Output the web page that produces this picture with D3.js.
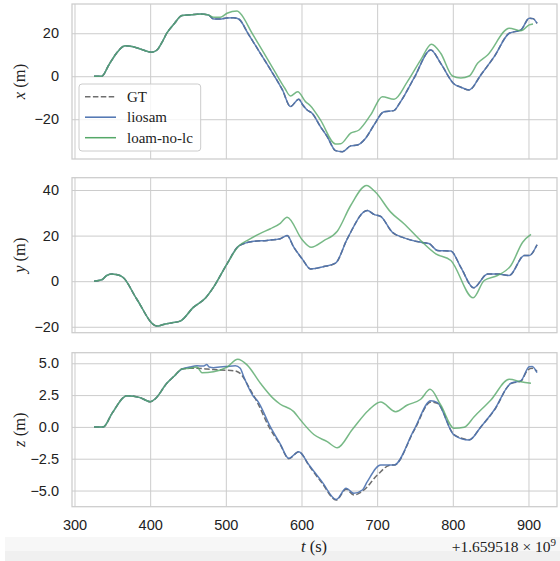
<!DOCTYPE html>
<html>
<head>
<meta charset="utf-8">
<script src="https://cdn.jsdelivr.net/npm/d3@7"></script>
<style>
  body { margin: 0; background: #fff; }
  svg { display: block; font-family: "Liberation Serif", serif; }
</style>
</head>
<body>
<svg id="chart" width="560" height="561"></svg>
<script>
// [t - 1659518000 (s), value (m)]
const xGT = [[325.8,0],[336,0],[345,5],[355,10.5],[366.9,14.2],[376,13.8],[386.8,12.7],[402,11.2],[409,12.2],[416,16],[422,20],[432,24.5],[442,28.2],[454,28.6],[466,29],[477,28.5],[484,26.6],[492.7,26.6],[501,27.1],[510,27.2],[517,26.6],[530,19.5],[545,11],[560,2.5],[575,-6.5],[585.4,-14.1],[596.4,-10.7],[602,-13.5],[607.5,-15.7],[614,-17.2],[625,-23.4],[634,-28.1],[645,-34.6],[654,-35.1],[665,-32.4],[673.8,-32],[684.8,-28.8],[695.8,-22.7],[709,-16.5],[722,-16],[731,-11.8],[748.7,-0.9],[770.9,12.2],[784,6],[801.7,-3.6],[810.6,-5.1],[821.6,-6.4],[837,0.6],[854.7,9.1],[874.6,20],[890,21.5],[901,27],[906,26.8],[911.3,24.6]];
const xLiosam = [[325.8,0],[336,0],[345,5],[355,10.5],[366.9,14.2],[376,13.8],[386.8,12.7],[402,11.2],[409,12.2],[416,16],[422,20],[432,24.5],[442,28.2],[454,28.6],[466,29],[477,28.5],[484,26.6],[492.7,26.6],[501,27.1],[510,27.2],[517,26.6],[530,19.5],[545,11],[560,2.5],[575,-6.5],[585.4,-14.1],[596.4,-10.7],[602,-13.5],[607.5,-15.7],[614,-17.2],[625,-23.4],[634,-28.1],[645,-34.6],[654,-35.1],[665,-32.4],[673.8,-32],[684.8,-28.8],[695.8,-22.7],[709,-16.5],[722,-16],[731,-11.8],[748.7,-0.9],[770.9,12.2],[784,6],[801.7,-3.6],[810.6,-5.1],[821.6,-6.4],[837,0.6],[854.7,9.1],[874.6,20],[890,21.5],[901,27],[906,26.8],[911.3,24.6]];
const xLoam = [[325.8,0],[336,0],[345,5],[355,10.5],[366.9,14.2],[376,13.8],[386.8,12.7],[402,11.2],[409,12.2],[416,16],[422,20],[432,24.5],[442,28.2],[454,28.6],[466,29],[477,28.5],[484,27.4],[492.7,27.4],[501.6,29.3],[514.8,30.4],[519,29.3],[535,19.8],[550,11],[565,2],[578,-5.6],[585.4,-9.2],[595,-7.2],[605.3,-11.8],[612,-13.8],[625,-20.3],[645,-31.5],[651.7,-31.4],[665,-26.5],[676,-25],[691.4,-18],[706.9,-9.5],[722.3,-10.7],[740,-2.5],[757.6,7.6],[771.8,14.9],[784,10.7],[799.6,0.1],[810.6,-0.8],[821.6,0.1],[832.7,6],[846,9.9],[874.6,22.3],[890,21.1],[901,23.9],[906,24.3]];

const yGT = [[325.8,0],[336,0.6],[342.6,2.5],[349,3.2],[360,2.5],[364.7,1.5],[382,-7.7],[408.9,-19.7],[417.6,-19],[426.5,-18.4],[439.7,-17.5],[457.4,-11.4],[472.8,-7.5],[483.8,-2.6],[501.6,7.6],[517,15.4],[536.8,17.5],[554.6,17.9],[572,18.6],[581,20],[589.8,14.9],[600.9,9.8],[612,5.4],[629.6,6.4],[645,7.9],[660.5,18.6],[687,31],[695.8,29.3],[704.6,28.4],[720,21.5],[735.5,19],[757.6,17.1],[768.6,16.5],[779.7,13.5],[797.4,13.2],[810.6,6.1],[827.4,-2.9],[846,3.2],[859,3.2],[874.6,2.5],[894.5,11.3],[901,11.3],[911.3,16]];
const yLiosam = [[325.8,0],[336,0.6],[342.6,2.5],[349,3.2],[360,2.5],[364.7,1.5],[382,-7.7],[408.9,-19.7],[417.6,-19],[426.5,-18.4],[439.7,-17.5],[457.4,-11.4],[472.8,-7.5],[483.8,-2.6],[501.6,7.6],[517,15.4],[536.8,17.5],[554.6,17.9],[572,18.6],[581,20],[589.8,14.9],[600.9,9.8],[612,5.4],[629.6,6.4],[645,7.9],[660.5,18.6],[687,31],[695.8,29.3],[704.6,28.4],[720,21.5],[735.5,19],[757.6,17.1],[768.6,16.5],[779.7,13.5],[797.4,13.2],[810.6,6.1],[827.4,-2.9],[846,3.2],[859,3.2],[874.6,2.5],[894.5,11.3],[901,11.3],[911.3,16]];
const yLoam = [[325.8,0],[336,0.6],[342.6,2.5],[349,3.2],[360,2.5],[364.7,1.5],[382,-7.7],[408.9,-19.7],[417.6,-19],[426.5,-18.4],[439.7,-17.5],[457.4,-11.4],[472.8,-7.5],[483.8,-2.6],[501.6,7.6],[517,15.4],[528,17.8],[545.7,21],[559,23],[572,25.4],[581,28.1],[600.9,18.2],[612.8,14.9],[629.6,17.8],[647.3,21.9],[665,33.2],[686,42],[698,39],[717.9,30.3],[735.5,25.2],[757.6,17.8],[777.5,12],[797.4,9.1],[826.9,-7.3],[841.5,0.3],[859,2.5],[876.8,6.9],[892.3,17.1],[903.3,20.5]];

const zGT = [[325.8,0],[338,0],[350,1.1],[369,2.45],[386.8,2.3],[400,1.98],[406.6,2.2],[422,3.43],[432,4.0],[442,4.55],[452,4.6],[461.8,4.6],[475,4.55],[492.7,4.47],[510,4.42],[519,4.2],[532.5,2.9],[541,2.0],[558,-0.1],[572,-1.4],[583.2,-2.5],[596.4,-1.95],[610,-3.05],[627,-4.4],[646,-5.75],[659,-4.9],[669.3,-5.35],[682.5,-4.96],[700.2,-3.78],[718,-3.0],[722.3,-3],[748.7,-0.3],[770.9,1.95],[779.7,1.85],[801.7,-0.6],[821.6,-1.0],[837,0],[854.7,1.3],[876.8,3.4],[890,3.6],[899,4.47],[905,4.6],[911.3,4.36]];
const zLiosam = [[325.8,0],[338,0],[350,1.1],[369,2.45],[386.8,2.3],[400,1.98],[406.6,2.2],[422,3.43],[432,4.0],[442,4.55],[452,4.7],[461.8,4.8],[470,4.78],[475,4.9],[478,4.7],[483.8,4.65],[492,4.7],[501.6,4.75],[512.6,4.8],[519,4.6],[523.6,3.95],[536.8,2.37],[541.3,2.1],[558.9,0],[572,-1.35],[583.2,-2.47],[596.4,-1.95],[610,-3],[627,-4.3],[646,-5.7],[659,-4.83],[669.3,-5.22],[680.4,-4.96],[687,-4.3],[704.6,-3],[722.3,-3],[748.7,-0.24],[770.9,2.06],[779.7,1.9],[801.7,-0.64],[821.6,-1.03],[837,0],[854.7,1.33],[876.8,3.43],[890,3.63],[901,4.73],[905,4.75],[911.3,4.26]];
const zLoam = [[325.8,0],[338,0],[350,1.1],[369,2.45],[386.8,2.3],[400,1.98],[406.6,2.2],[422,3.43],[432,4.0],[442,4.55],[452,4.6],[461.8,4.7],[468.5,4.26],[483.8,4.34],[501.6,4.7],[515.7,5.31],[528,4.87],[545.7,3.43],[563.3,2.2],[572,1.78],[589.8,1.2],[598.7,0.54],[616.3,-0.6],[634,-1.16],[647.3,-1.64],[667.2,-0.2],[689,1.33],[704.6,1.95],[724.5,1.2],[740,1.72],[757.6,2.17],[770,2.95],[784,1.72],[801.7,-0.11],[815,-0.03],[828.2,0.8],[850.3,2.12],[874.6,3.74],[890,3.55],[903.3,3.43]];

const tTicks = [300, 400, 500, 600, 700, 800, 900];
const xTicks = [-20, 0, 20];
const yTicks = [-20, 0, 20, 40];
const zTicks = [-5, -2.5, 0, 2.5, 5];
const legendNames = ['GT', 'liosam', 'loam-no-lc'];

const colors = { gt: '#6e6e6e', liosam: '#4c72b0', loam: '#55a868' };
const svg = d3.select('#chart');

// grey strip at the bottom of the screenshot
svg.append('rect').attr('x', 5).attr('y', 537).attr('width', 555).attr('height', 24).attr('fill', '#f7f7f7');
svg.append('rect').attr('x', 5).attr('y', 551).attr('width', 555).attr('height', 10).attr('fill', '#f0f0f0');

const xscale = d3.scaleLinear().domain([296.7, 937.7]).range([72, 557]);

const panels = [
    { top: 4, bottom: 159, domain: [-38.5, 33.6], ticks: xTicks, fmt: d3.format('d'), label: 'x', series: [xGT, xLiosam, xLoam] },
    { top: 177.7, bottom: 332.7, domain: [-22.6, 45.4], ticks: yTicks, fmt: d3.format('d'), label: 'y', series: [yGT, yLiosam, yLoam] },
    { top: 352.7, bottom: 506.7, domain: [-6.27, 5.83], ticks: zTicks, fmt: d3.format('.1f'), label: 'z', series: [zGT, zLiosam, zLoam] }
];

panels.forEach((p, i) => {
    const yscale = d3.scaleLinear().domain(p.domain).range([p.bottom, p.top]);
    const g = svg.append('g');

    // grid
    const xaxis = d3.axisBottom(xscale).tickValues(tTicks).tickSize(-(p.bottom - p.top)).tickFormat(i === 2 ? d3.format('d') : '').tickPadding(10);
    const xg = g.append('g').attr('transform', `translate(0, ${p.bottom})`).call(xaxis);
    xg.select('.domain').remove();
    xg.selectAll('.tick line').attr('stroke', '#cccccc').attr('stroke-width', 1);
    xg.selectAll('.tick text').attr('fill', '#222').style('font-size', '14.5px').attr('dy', '0.9em');

    const yaxis = d3.axisLeft(yscale).tickValues(p.ticks).tickSize(-(557 - 72)).tickFormat(d => p.fmt(d).replace('-', '\u2212')).tickPadding(13);
    const yg = g.append('g').attr('transform', 'translate(72, 0)').call(yaxis);
    yg.select('.domain').remove();
    yg.selectAll('.tick line').attr('stroke', '#cccccc').attr('stroke-width', 1);
    yg.selectAll('.tick text').attr('fill', '#222').style('font-size', '14.5px');

    // frame
    g.append('rect')
        .attr('x', 72).attr('y', p.top)
        .attr('width', 557 - 72).attr('height', p.bottom - p.top)
        .attr('fill', 'none').attr('stroke', '#cccccc').attr('stroke-width', 1.25);

    const line = d3.line()
        .x(d => xscale(d[0]))
        .y(d => yscale(d[1]))
        .curve(d3.curveMonotoneX);

    g.append('path').attr('d', line(p.series[0])).attr('fill', 'none')
        .attr('stroke', colors.gt).attr('stroke-width', 1.5).attr('stroke-dasharray', '5.5,2.4');
    g.append('path').attr('d', line(p.series[1])).attr('fill', 'none')
        .attr('stroke', colors.liosam).attr('stroke-width', 1.5).attr('stroke-opacity', 0.9);
    g.append('path').attr('d', line(p.series[2])).attr('fill', 'none')
        .attr('stroke', colors.loam).attr('stroke-width', 1.5).attr('stroke-opacity', 0.8);

    // y label
    const cy = (p.top + p.bottom) / 2;
    const lab = svg.append('text')
        .attr('transform', `translate(25, ${cy}) rotate(-90)`)
        .attr('text-anchor', 'middle')
        .style('font-size', '16.5px').attr('fill', '#222');
    lab.append('tspan').style('font-style', 'italic').text(p.label);
    lab.append('tspan').text(' (m)');
});

// x label and offset
const tl = svg.append('text').attr('x', 314).attr('y', 552).attr('text-anchor', 'middle')
    .style('font-size', '16.5px').attr('fill', '#222');
tl.append('tspan').style('font-style', 'italic').text('t');
tl.append('tspan').text(' (s)');

const off = svg.append('text').attr('x', 556).attr('y', 552).attr('text-anchor', 'end')
    .style('font-size', '15.5px').attr('fill', '#222');
off.append('tspan').text('+1.659518 \u00d7 10');
off.append('tspan').attr('dy', -6).style('font-size', '11px').text('9');

// legend
const lg = svg.append('g');
lg.append('rect').attr('x', 79).attr('y', 84).attr('width', 121.7).attr('height', 67)
    .attr('rx', 3).attr('fill', '#fff').attr('fill-opacity', 0.8)
    .attr('stroke', '#cccccc').attr('stroke-width', 1);
const legendStyles = [
    { c: colors.gt, dash: '5.5,2.4' },
    { c: colors.liosam, dash: null },
    { c: colors.loam, dash: null }
];
legendNames.forEach((name, i) => {
    const y = 96.7 + i * 20.5;
    lg.append('line').attr('x1', 85).attr('x2', 116).attr('y1', y).attr('y2', y)
        .attr('stroke', legendStyles[i].c).attr('stroke-width', 1.5)
        .attr('stroke-dasharray', legendStyles[i].dash);
    lg.append('text').attr('x', 127).attr('y', y + 5).style('font-size', '15px')
        .attr('fill', '#222').text(name);
});
</script>
</body>
</html>
